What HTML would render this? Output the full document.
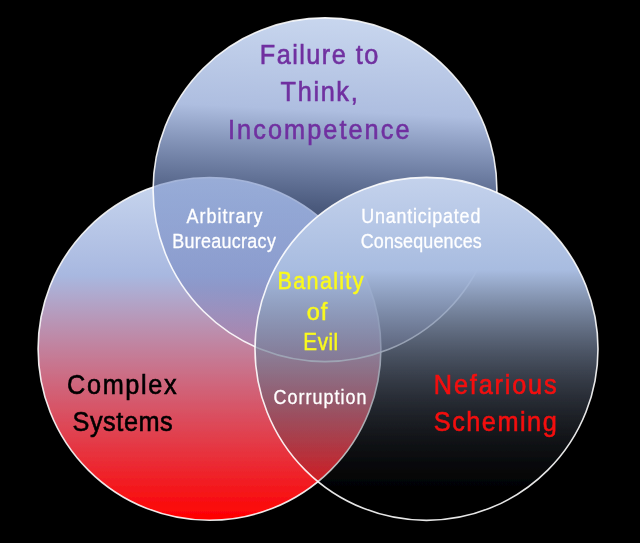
<!DOCTYPE html>
<html><head><meta charset="utf-8">
<style>
html,body{margin:0;padding:0;background:#000;width:640px;height:543px;overflow:hidden}
svg{display:block}
text{font-family:"Liberation Sans",sans-serif;text-anchor:middle}
</style></head>
<body>
<svg width="640" height="543" viewBox="0 0 640 543">
<defs>
<linearGradient id="gL" gradientUnits="userSpaceOnUse" x1="0" y1="177.49999999999997" x2="0" y2="520.3">
<stop offset="0" stop-color="#c8d6ee" stop-opacity="1"/>
<stop offset="0.285" stop-color="#a8b8e0" stop-opacity="1"/>
<stop offset="1" stop-color="#ff0000" stop-opacity="1"/>
</linearGradient>
<linearGradient id="gT" gradientUnits="userSpaceOnUse" x1="333" y1="17.849999999999994" x2="317" y2="361.65">
<stop offset="0" stop-color="#c8d6ee" stop-opacity="1"/>
<stop offset="0.27" stop-color="#aebee0" stop-opacity="1"/>
<stop offset="0.555" stop-color="#7890c8" stop-opacity="0.62"/>
<stop offset="0.8" stop-color="#7080bc" stop-opacity="0.5"/>
<stop offset="1" stop-color="#9080b8" stop-opacity="0.32"/>
</linearGradient>
<linearGradient id="gR" gradientUnits="userSpaceOnUse" x1="0" y1="177.39999999999998" x2="0" y2="520.4">
<stop offset="0" stop-color="#c4d2ec" stop-opacity="1"/>
<stop offset="0.27" stop-color="#a8bce0" stop-opacity="1"/>
<stop offset="1" stop-color="#000000" stop-opacity="0"/>
</linearGradient>
<filter id="blur" filterUnits="userSpaceOnUse" x="-10" y="-10" width="660" height="563"><feGaussianBlur stdDeviation="0.45"/></filter>
</defs>
<rect width="640" height="543" fill="#000"/>
<g filter="url(#blur)">
<circle cx="209.5" cy="348.9" r="171.4" fill="url(#gL)" stroke="#fff" stroke-opacity="0.9" stroke-width="1.6"/>
<circle cx="325" cy="189.75" r="171.9" fill="url(#gT)" stroke="#fff" stroke-opacity="0.9" stroke-width="1.6"/>
<circle cx="426.5" cy="348.9" r="171.5" fill="url(#gR)" stroke="#fff" stroke-opacity="0.9" stroke-width="1.6"/>
<text transform="translate(319.00,63.8) scale(0.92,1)" font-size="27.5" textLength="128.77" lengthAdjust="spacing" fill="#7030a0" stroke="#7030a0" stroke-width="0.6">Failure to</text>
<text transform="translate(319.13,100.9) scale(0.92,1)" font-size="27.5" textLength="83.86" lengthAdjust="spacing" fill="#7030a0" stroke="#7030a0" stroke-width="0.6">Think,</text>
<text transform="translate(318.75,138.9) scale(0.92,1)" font-size="27.5" textLength="197.21" lengthAdjust="spacing" fill="#7030a0" stroke="#7030a0" stroke-width="0.6">Incompetence</text>
<text transform="translate(224.50,223.0) scale(0.92,1)" font-size="19.5" textLength="82.38" lengthAdjust="spacing" fill="#fff" stroke="#fff" stroke-width="0.3">Arbitrary</text>
<text transform="translate(224.00,247.6) scale(0.92,1)" font-size="19.5" textLength="112.73" lengthAdjust="spacing" fill="#fff" stroke="#fff" stroke-width="0.3">Bureaucracy</text>
<text transform="translate(420.75,223.4) scale(0.92,1)" font-size="19.5" textLength="129.58" lengthAdjust="spacing" fill="#fff" stroke="#fff" stroke-width="0.3">Unanticipated</text>
<text transform="translate(421.25,248.1) scale(0.92,1)" font-size="19.5" textLength="131.72" lengthAdjust="spacing" fill="#fff" stroke="#fff" stroke-width="0.3">Consequences</text>
<text transform="translate(320.50,289.0) scale(0.92,1)" font-size="23.5" textLength="93.39" lengthAdjust="spacing" fill="#fafa1e" stroke="#fafa1e" stroke-width="0.5">Banality</text>
<text transform="translate(317.00,320.3) scale(1.0,1)" font-size="23.5" textLength="20.61" lengthAdjust="spacing" fill="#fafa1e" stroke="#fafa1e" stroke-width="0.5">of</text>
<text transform="translate(320.75,350.2) scale(0.88,1)" font-size="23.5" textLength="39.58" lengthAdjust="spacing" fill="#fafa1e" stroke="#fafa1e" stroke-width="0.5">Evil</text>
<text transform="translate(320.00,403.7) scale(0.92,1)" font-size="19.5" textLength="100.83" lengthAdjust="spacing" fill="#fff" stroke="#fff" stroke-width="0.3">Corruption</text>
<text transform="translate(121.87,393.6) scale(0.92,1)" font-size="27.5" textLength="119.11" lengthAdjust="spacing" fill="#000" stroke="#000" stroke-width="0.6">Complex</text>
<text transform="translate(122.62,431.0) scale(0.92,1)" font-size="27.5" textLength="108.97" lengthAdjust="spacing" fill="#000" stroke="#000" stroke-width="0.6">Systems</text>
<text transform="translate(495.25,393.9) scale(0.92,1)" font-size="27.5" textLength="133.46" lengthAdjust="spacing" fill="#f41010" stroke="#f41010" stroke-width="0.6">Nefarious</text>
<text transform="translate(495.25,430.6) scale(0.92,1)" font-size="27.5" textLength="133.71" lengthAdjust="spacing" fill="#f41010" stroke="#f41010" stroke-width="0.6">Scheming</text>
</g>
</svg>
</body></html>
